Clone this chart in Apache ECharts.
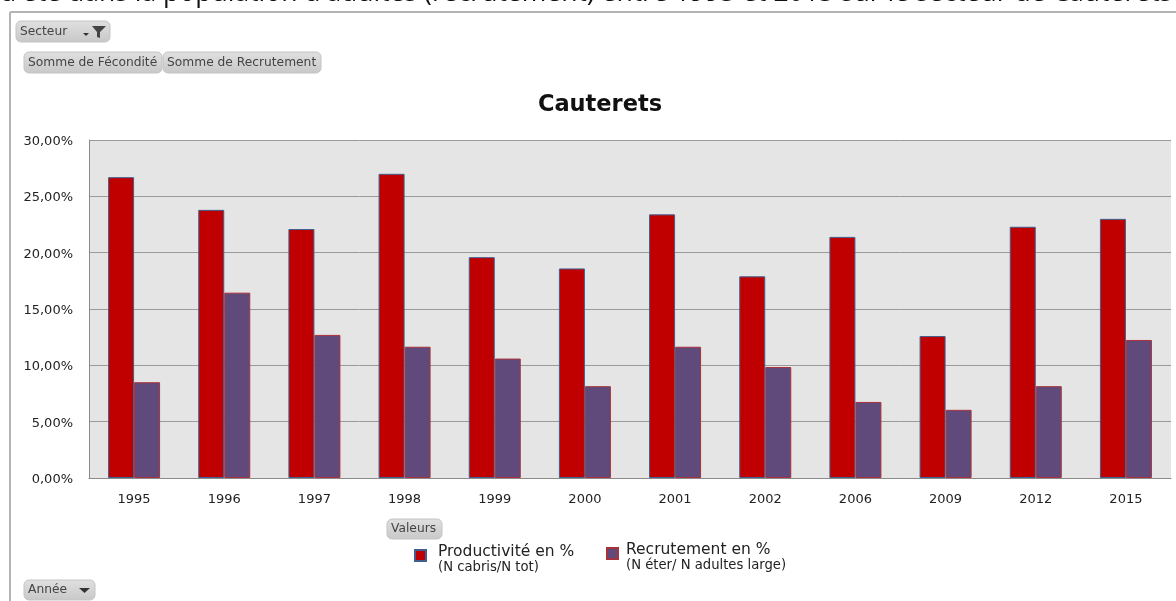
<!DOCTYPE html>
<html>
<head>
<meta charset="utf-8">
<style>
  html, body { margin: 0; padding: 0; background: #fff; overflow: hidden; }
  #chart { width: 1176px; height: 601px; }
</style>
<script src="https://cdn.jsdelivr.net/npm/echarts@6/dist/echarts.min.js"></script>
</head>
<body>
<div id="chart"></div>
<script>
const years = ["1995", "1996", "1997", "1998", "1999", "2000", "2001", "2002", "2006", "2009", "2012", "2015"];
const productivite = [26.7, 23.8, 22.1, 27.0, 19.6, 18.6, 23.4, 17.9, 21.4, 12.6, 22.3, 23.0];
const recrutement = [8.5, 16.45, 12.7, 11.65, 10.6, 8.15, 11.65, 9.85, 6.75, 6.05, 8.15, 12.25];
const captionText = "d'été dans la population d'adultes (recrutement) entre 1995 et 2015 sur le secteur de Cauterets";
const font = "'DejaVu Sans', sans-serif";
const captionFont = "'Open Sans', 'Noto Sans', sans-serif";

// boutons gris du graphique croisé dynamique
function button(x, y, w, h, label) {
  return {
    type: "group",
    children: [
      {
        type: "rect",
        shape: { x: x, y: y, width: w, height: h, r: 5 },
        style: {
          fill: {
            type: "linear", x: 0, y: 0, x2: 0, y2: 1,
            colorStops: [{ offset: 0, color: "#e0e0e0" }, { offset: 1, color: "#c8c8c8" }],
          },
          stroke: "#c4c4c4",
        },
      },
      {
        type: "text",
        x: x + 4,
        y: y + h / 2,
        style: { text: label, fill: "#444", font: "12.25px " + font, verticalAlign: "middle" },
      },
    ],
  };
}

const chart = echarts.init(document.getElementById("chart"));

function legendRich(gap) {
  return {
    a: { fontSize: 15.5, color: "#222", lineHeight: 19, fontFamily: font, padding: [19, 0, 0, gap] },
    s: { fontSize: 5, lineHeight: 5 },
    b: { fontSize: 13.2, color: "#222", lineHeight: 21, fontFamily: font, padding: [0, 0, 0, gap] },
  };
}

chart.setOption({
  animation: false,
  textStyle: { fontFamily: font },
  title: {
    text: "Cauterets",
    left: 595,
    top: 89,
    textAlign: "center",
    textStyle: { fontSize: 22.5, fontWeight: "bold", color: "#111", fontFamily: font },
  },
  grid: { left: 89, right: 5, top: 140, bottom: 123, backgroundColor: "#e5e5e5", show: true, borderWidth: 0 },
  xAxis: {
    type: "category",
    data: years,
    axisLine: { lineStyle: { color: "#8a8a8a", width: 1 } },
    axisTick: { show: false },
    axisLabel: { color: "#222", fontSize: 13, margin: 15 },
  },
  yAxis: {
    type: "value",
    min: 0,
    max: 30,
    interval: 5,
    axisLine: { show: true, lineStyle: { color: "#8a8a8a" } },
    axisTick: { show: false },
    axisLabel: {
      color: "#222",
      fontSize: 13,
      margin: 16,
      verticalAlign: "top",
      lineHeight: 3,
      formatter: (v) => v.toFixed(2).replace(".", ",") + "%",
    },
    splitLine: { lineStyle: { color: "#9a9a9a", width: 1 } },
  },
  legend: [
    {
      data: [{ name: "Productivité en %", icon: "rect" }],
      left: 409,
      top: 520,
      itemWidth: 11,
      itemHeight: 11,
      formatter: () => "{a|Productivité en %}\n{s| }\n{b|(N cabris/N tot)}",
      textStyle: { rich: legendRich(7) },
    },
    {
      data: [{ name: "Recrutement en %", icon: "rect" }],
      left: 601,
      top: 518,
      itemWidth: 11,
      itemHeight: 11,
      formatter: () => "{a|Recrutement en %}\n{s| }\n{b|(N éter/ N adultes large)}",
      textStyle: { rich: legendRich(3) },
    },
  ],
  series: [
    {
      name: "Productivité en %",
      type: "bar",
      data: productivite,
      barWidth: 26,
      barGap: 0,
      itemStyle: { color: "#c00000", borderColor: "#3f5f8f", borderWidth: 1 },
    },
    {
      name: "Recrutement en %",
      type: "bar",
      data: recrutement,
      barWidth: 26,
      itemStyle: { color: "#604a7b", borderColor: "#a8323c", borderWidth: 1 },
    },
  ],
  graphic: [
    { type: "text", x: 0, y: -20, style: { text: captionText, fill: "#111", font: "26.5px " + captionFont } },
    // cadre du graphique
    { type: "line", shape: { x1: 10, y1: 12, x2: 1176, y2: 12 }, style: { stroke: "#b4b4b4", lineWidth: 2 } },
    { type: "line", shape: { x1: 10, y1: 12, x2: 10, y2: 601 }, style: { stroke: "#b4b4b4", lineWidth: 2 } },
    button(16, 21, 94, 21, "Secteur"),
    button(24, 52, 138, 21, "Somme de Fécondité"),
    button(163, 52, 158, 21, "Somme de Recrutement"),
    button(387, 519, 55, 20, "Valeurs"),
    button(24, 580, 71, 20, "Année"),
    // entonnoir et flèches
    { type: "polygon", shape: { points: [[92, 26], [106, 26], [100, 32], [100, 38], [97, 37], [97, 32]] }, style: { fill: "#444" } },
    { type: "polygon", shape: { points: [[83, 33], [89, 33], [86, 36]] }, style: { fill: "#333" } },
    { type: "polygon", shape: { points: [[79, 588], [90, 588], [84.5, 593]] }, style: { fill: "#333" } },
  ],
});
</script>
</body>
</html>
